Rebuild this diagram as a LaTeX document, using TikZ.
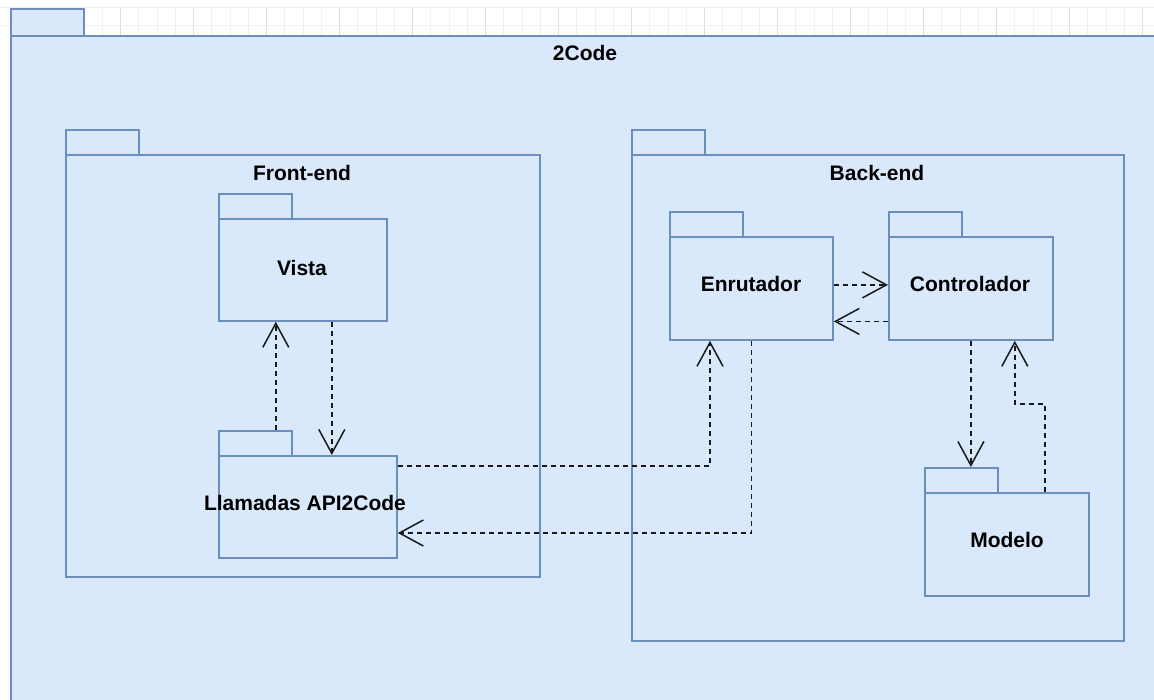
\documentclass[tikz,border=0pt]{standalone}
\usepackage{fontspec}
\setmainfont{Liberation Sans}
\usetikzlibrary{arrows.meta,calc}
\definecolor{pkgfill}{HTML}{DAE8FC}
\definecolor{pkgdraw}{HTML}{6C8EBF}
\definecolor{gridminor}{HTML}{F0F0F0}
\definecolor{gridmajor}{HTML}{DDDDDD}
\tikzset{
  pkg/.style={draw=pkgdraw, fill=pkgfill, line width=1.8pt, inner sep=0pt, anchor=north west},
  tab/.style={pkg, minimum width=73pt, minimum height=25pt},
  lbl/.style={font=\bfseries\fontsize{21}{24}\selectfont, inner sep=0pt},
  dep/.style={draw=black!90, line width=1.6pt, dash pattern=on 5pt off 4pt,
    -{Straight Barb[length=24pt,width=26pt,line width=1.5pt]}}
}
\begin{document}
\begin{tikzpicture}[x=1pt,y=-1pt]
\useasboundingbox (0,0) rectangle (1154,700);
\clip (0,0) rectangle (1154,700);
% grid strip
\foreach \k in {-2,...,60} {
  \pgfmathsetmacro{\xx}{47.5+18.25*\k}
  \draw[gridminor, line width=1pt] (\xx,7) -- (\xx,35);
}
\foreach \k in {0,...,15} {
  \pgfmathsetmacro{\xx}{47.5+73*\k}
  \draw[gridmajor, line width=1pt] (\xx,7) -- (\xx,35);
}
\draw[gridminor, line width=1pt] (0,7.5) -- (1154,7.5);
\draw[gridminor, line width=1pt] (0,25.5) -- (1154,25.5);

% outer package 2Code
\node[pkg, minimum width=73pt, minimum height=27pt] (codeTab) at (10,8) {};
\node[pkg, minimum width=1170pt, minimum height=700pt] (code) at (10,35) {};
\node[lbl] (codeLbl) at (585,53) {2Code};

% Front-end
\node[tab] (frontTab) at (65,129) {};
\node[pkg, minimum width=474pt, minimum height=422pt] (front) at (65,154) {};
\node[lbl] (frontLbl) at (302,173) {Front-end};

% Vista
\node[tab] (vistaTab) at (218,193) {};
\node[pkg, minimum width=168pt, minimum height=102pt] (vista) at (218,218) {};
\node[lbl] (vistaLbl) at (302,268) {Vista};

% Llamadas API2Code
\node[tab] (llamTab) at (218,430) {};
\node[pkg, minimum width=178pt, minimum height=102pt] (llam) at (218,455) {};
\node[lbl] (llamLbl) at (305,503) {Llamadas API2Code};

% Back-end
\node[tab] (backTab) at (631,129) {};
\node[pkg, minimum width=492pt, minimum height=486pt] (back) at (631,154) {};
\node[lbl] (backLbl) at (877,173) {Back-end};

% Enrutador
\node[tab] (enrTab) at (669,211) {};
\node[pkg, minimum width=163pt, minimum height=103pt] (enr) at (669,236) {};
\node[lbl] (enrLbl) at (751,284) {Enrutador};

% Controlador
\node[tab] (ctlTab) at (888,211) {};
\node[pkg, minimum width=164pt, minimum height=103pt] (ctl) at (888,236) {};
\node[lbl] (ctlLbl) at (970,284) {Controlador};

% Modelo
\node[tab] (modTab) at (924,467) {};
\node[pkg, minimum width=164pt, minimum height=103pt] (mod) at (924,492) {};
\node[lbl] (modLbl) at (1007,540) {Modelo};

% dependencies
\draw[dep] ([xshift=-17pt]llamTab.north east) -- ([xshift=-17pt]llamTab.north east |- vista.south);
\draw[dep] ([xshift=-56pt]vista.south east) -- ([xshift=-56pt]vista.south east |- llam.north);
\draw[dep] ([yshift=-11pt]llam.north east) -| ([xshift=41pt]enr.south west);
\draw[dep] (enr.south) |- ([yshift=-78pt]llam.north east);
\draw[dep] ([yshift=3.5pt]enr.east) -- ([yshift=3.5pt]enr.east -| ctl.west);
\draw[dep] ([yshift=-33pt]ctl.west) -- ([yshift=-33pt]ctl.west -| enr.east);
\draw[dep] (ctl.south) -- (ctl.south |- modTab.north);
\draw[dep] ([xshift=-45pt]mod.north east) -- ++(0,-88) -| ([xshift=-39pt]ctl.south east);
\end{tikzpicture}
\end{document}
